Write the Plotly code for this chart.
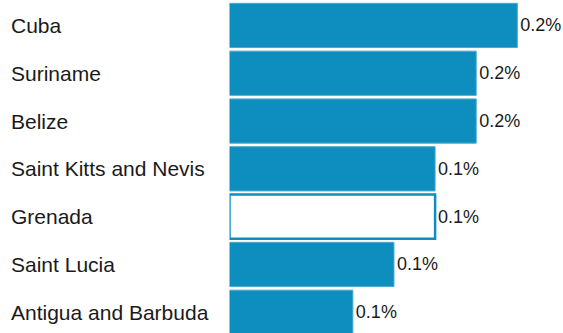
import plotly.graph_objects as go

countries = ["Cuba", "Suriname", "Belize", "Saint Kitts and Nevis", "Grenada", "Saint Lucia", "Antigua and Barbuda"]
shares = [0.196, 0.168, 0.168, 0.140, 0.140, 0.112, 0.084]
labels = ["0.2%", "0.2%", "0.2%", "0.1%", "0.1%", "0.1%", "0.1%"]
highlight = "Grenada"

BLUE = "#0d8ebf"
FONT = "Liberation Sans, Arial, Helvetica, sans-serif"
fills = ["white" if c == highlight else BLUE for c in countries]
line_w = [2.5 if c == highlight else 1 for c in countries]
line_c = [BLUE if c == highlight else "#4aa9d0" for c in countries]

fig = go.Figure(go.Bar(
    x=shares, y=countries, orientation="h",
    marker=dict(color=fills, line=dict(color=line_c, width=line_w)),
    text=labels, textposition="outside", cliponaxis=False,
    textfont=dict(family=FONT, size=18, color="#1a1a1a"),
    hoverinfo="skip",
))

for c in countries:
    fig.add_annotation(x=9/563, xref="paper", y=c, yref="y", text=c, showarrow=False,
                       xanchor="left", yanchor="middle",
                       font=dict(family=FONT, size=21, color="#1a1a1a"))

fig.update_layout(
    width=563, height=333, margin=dict(l=0, r=0, t=0, b=0),
    paper_bgcolor="white", plot_bgcolor="white", showlegend=False,
    bargap=0.075,
    xaxis=dict(domain=[229.5/563, 1], range=[0, 0.2271], visible=False, fixedrange=True),
    yaxis=dict(range=[6.434, -0.532], visible=False, fixedrange=True),
)
fig.write_html("out.html", config={"displayModeBar": False},
               post_script="document.body.style.margin='0';")
